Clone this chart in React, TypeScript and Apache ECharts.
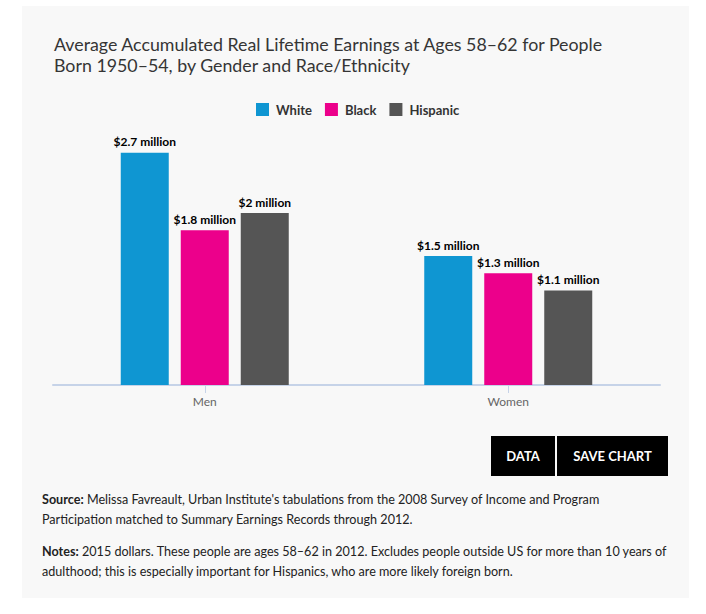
import React, { useEffect, useRef } from "react";
import * as echarts from "echarts";

// Lifetime earnings (millions of 2015 dollars) by gender and race/ethnicity
const categories = ["Men", "Women"];
const white = [2.7, 1.5];
const black = [1.8, 1.3];
const hispanic = [2.0, 1.1];
const seriesNames = ["White", "Black", "Hispanic"];
const colors = ["#0f96d2", "#ec008b", "#555555"];

const titleText =
  "Average Accumulated Real Lifetime Earnings at Ages 58–62 for People\nBorn 1950–54, by Gender and Race/Ethnicity";
const sourceText =
  "{b|Source:} Melissa Favreault, Urban Institute's tabulations from the 2008 Survey of Income and Program\nParticipation matched to Summary Earnings Records through 2012.";
const notesText =
  "{b|Notes:} 2015 dollars. These people are ages 58–62 in 2012. Excludes people outside US for more than 10 years of\nadulthood; this is especially important for Hispanics, who are more likely foreign born.";

const FONT = "Lato, 'Noto Sans', sans-serif";
const NOTE_SIZE = 12.6;

export default function App() {
  const ref = useRef<HTMLDivElement>(null);

  useEffect(() => {
    if (!ref.current) return;
    const chart = echarts.init(ref.current, undefined, { renderer: "svg" });

    const barSeries = [white, black, hispanic].map((values, i) => ({
      name: seriesNames[i],
      type: "bar",
      data: values,
      barWidth: 48,
      barGap: "25%",
      itemStyle: { color: colors[i] },
      label: {
        show: true,
        position: "top",
        distance: 5,
        formatter: (p: any) => `$${p.value} million`,
        color: "#000",
        fontFamily: FONT,
        fontWeight: "bold",
        fontSize: 12,
      },
    }));

    const noteStyle = (text: string) => ({
      text,
      fill: "#222",
      font: `${NOTE_SIZE}px ${FONT}`,
      lineHeight: 20,
      rich: {
        b: { fontWeight: "bold", fontSize: NOTE_SIZE, fontFamily: FONT, fill: "#222", lineHeight: 20 },
      },
    });

    chart.setOption({
      animation: false,
      textStyle: { fontFamily: FONT },
      title: {
        text: titleText,
        left: 54,
        top: 33,
        padding: 0,
        textStyle: {
          fontFamily: FONT,
          fontSize: 17.8,
          fontWeight: "normal",
          color: "#353535",
          lineHeight: 21,
        },
      },
      legend: {
        left: 256,
        top: 103,
        padding: 0,
        itemWidth: 13,
        itemHeight: 13,
        itemGap: 13,
        icon: "rect",
        textStyle: {
          fontFamily: FONT,
          fontSize: 13,
          fontWeight: "bold",
          color: "#333",
          padding: [0, 0, 0, 2],
        },
        data: seriesNames,
      },
      grid: { left: 53, right: 46, top: 127, bottom: 229 },
      xAxis: {
        type: "category",
        data: categories,
        axisLine: { lineStyle: { color: "#c6d3e8", width: 2 } },
        axisTick: {
          show: true,
          alignWithLabel: true,
          length: 8,
          lineStyle: { color: "#c6d3e8", width: 1 },
        },
        axisLabel: {
          color: "#666",
          fontFamily: FONT,
          fontSize: 12,
          margin: 10,
        },
      },
      yAxis: {
        type: "value",
        min: 0,
        max: 3,
        show: false,
        splitLine: { show: false },
      },
      graphic: [
        {
          type: "rect",
          z: -10,
          silent: true,
          shape: { x: 22, y: 6, width: 667, height: 592 },
          style: { fill: "#f8f8f8" },
        },
        {
          type: "rect",
          shape: { x: 491, y: 436, width: 64, height: 40 },
          style: { fill: "#000" },
        },
        {
          type: "text",
          x: 523,
          y: 456,
          style: {
            text: "DATA",
            fill: "#fff",
            font: `bold 13px ${FONT}`,
            align: "center",
            verticalAlign: "middle",
          },
        },
        {
          type: "rect",
          shape: { x: 557, y: 436, width: 111, height: 40 },
          style: { fill: "#000" },
        },
        {
          type: "text",
          x: 612.5,
          y: 456,
          style: {
            text: "SAVE CHART",
            fill: "#fff",
            font: `bold 13px ${FONT}`,
            align: "center",
            verticalAlign: "middle",
          },
        },
        { type: "text", x: 42, y: 489, style: noteStyle(sourceText) },
        { type: "text", x: 42, y: 541, style: noteStyle(notesText) },
      ],
      series: barSeries,
    });

    return () => chart.dispose();
  }, []);

  return (
    <div
      ref={ref}
      style={{ position: "absolute", left: 0, top: 0, width: 706, height: 614, background: "#fff" }}
    />
  );
}
